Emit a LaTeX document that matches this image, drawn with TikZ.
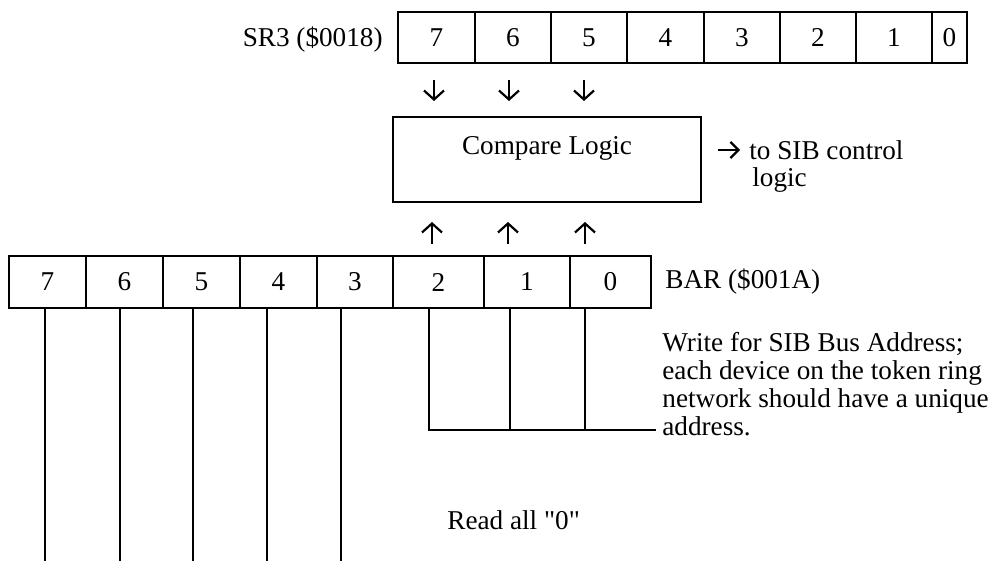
\documentclass[tikz,border=0pt]{standalone}
\usepackage{fontspec}
\setmainfont{Liberation Serif}
\usetikzlibrary{arrows.meta}

\begin{document}
\begin{tikzpicture}%
        [x=0.5pt, y=-0.5pt,
        every node/.style={font=\fontsize{13.6}{14}\selectfont},
        bitcell/.style={draw, line width=1.3pt, inner sep=0pt, minimum width=38pt},
        srcell/.style={bitcell, minimum height=25.5pt},
        barcell/.style={bitcell, minimum height=26pt},
        logicbox/.style={draw, line width=1.3pt, inner sep=0pt, minimum width=154pt, minimum height=42.5pt},
        wire/.style={line width=1.2pt},
        glyph/.style={line width=1.1pt, -{Straight Barb[length=4.5pt, width=10pt]}},
        regtext/.style={inner sep=0pt, anchor=west}]
%
\useasboundingbox (0,0) rectangle (1003,561);
%%
%% Register SR3
%%
\node[srcell, minimum width=38.5pt] (sr7) at (436.5,37.5) {7};
\node[srcell] (sr6) at (513,37.5) {6};
\node[srcell] (sr5) at (589,37.5) {5};
\node[srcell, minimum width=38.5pt] (sr4) at (665.5,37.5) {4};
\node[srcell] (sr3) at (742,37.5) {3};
\node[srcell] (sr2) at (818,37.5) {2};
\node[srcell] (sr1) at (894,37.5) {1};
\node[srcell, minimum width=17.5pt] (sr0) at (949.5,37.5) {0};
\node[regtext, anchor=east] (srname) at (383,40) {SR3 (\$0018)};
%%
%% Compare logic
%%
\draw[glyph] (434,80) -- (434,101);
\draw[glyph] (509,80) -- (509,101);
\draw[glyph] (584,80) -- (584,101);
\node[logicbox] (cmp) at (547,159.5) {};
\node[inner sep=0pt] (cmptext) at (547,148) {Compare Logic};
\draw[glyph, -{Straight Barb[length=4pt, width=8pt]}] (718,150) -- (740,150);
\node[regtext] (sibout) at (749,150) {to SIB control};
\node[regtext] (sibout2) at (752,180) {logic};
\draw[glyph] (432,244) -- (432,222);
\draw[glyph] (508,244) -- (508,222);
\draw[glyph] (585,244) -- (585,222);
%%
%% Register BAR
%%
\node[barcell, minimum width=38.5pt] (bar7) at (47.5,282) {7};
\node[barcell, minimum width=38.5pt] (bar6) at (124.5,282) {6};
\node[barcell, minimum width=38.5pt] (bar5) at (201.5,282) {5};
\node[barcell, minimum width=38.5pt] (bar4) at (278.5,282) {4};
\node[barcell] (bar3) at (355,282) {3};
\node[barcell, minimum width=45.5pt] (bar2) at (438.5,282) {2};
\node[barcell, minimum width=43pt] (bar1) at (527,282) {1};
\node[barcell, minimum width=40.5pt] (bar0) at (610.5,282) {0};
\node[regtext] (barname) at (665,282) {BAR (\$001A)};
%%
%% Lines under the bits
%%
\coordinate (busend) at (656,430);
\draw[wire] ([xshift=-1.25pt]bar7.south) -- ++(0,253);
\draw[wire] ([xshift=-2.25pt]bar6.south) -- ++(0,253);
\draw[wire] ([xshift=-4.25pt]bar5.south) -- ++(0,253);
\draw[wire] ([xshift=-5.75pt]bar4.south) -- ++(0,253);
\draw[wire] ([xshift=-7pt]bar3.south) -- ++(0,253);
\draw[wire] ([xshift=-4.75pt]bar2.south) |- (busend);
\draw[wire] ([xshift=-8.5pt]bar1.south) -- ++(0,122);
\draw[wire] ([xshift=-12.75pt]bar0.south) -- ++(0,122);
%%
\node[regtext, align=left] (writenote) at (662,384) {Write for SIB Bus Address;\\each device on the token ring\\network should have a unique\\address.};
\node[regtext] (readnote) at (447,520) {Read all \textquotedbl 0\textquotedbl};

\end{tikzpicture}
\end{document}
